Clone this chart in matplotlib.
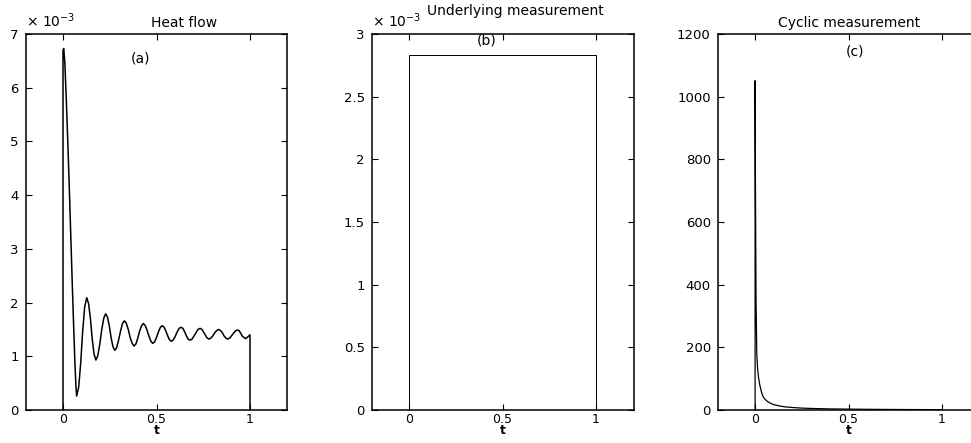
import matplotlib
matplotlib.use("Agg")
import matplotlib.pyplot as plt

plt.rcParams['font.family'] = ['DejaVu Sans']

# ---------------- data ----------------
# (a) Heat flow (units of 1e-3)
heat_t = [0.000, 0.000, 0.004, 0.010, 0.018, 0.026, 0.034, 0.042, 0.050, 0.058, 0.064, 0.069,
          0.073, 0.084, 0.095, 0.105, 0.116, 0.127, 0.137, 0.147, 0.156, 0.166,
          0.176, 0.186, 0.197, 0.207, 0.218, 0.228, 0.238, 0.248, 0.257, 0.267,
          0.277, 0.287, 0.297, 0.308, 0.318, 0.328, 0.338, 0.349, 0.359, 0.370,
          0.380, 0.390, 0.400, 0.410, 0.420, 0.430, 0.440, 0.450, 0.460, 0.470,
          0.480, 0.490, 0.500, 0.511, 0.521, 0.531, 0.541, 0.550, 0.560, 0.569,
          0.579, 0.589, 0.600, 0.610, 0.621, 0.631, 0.641, 0.650, 0.660, 0.669,
          0.679, 0.690, 0.701, 0.711, 0.722, 0.733, 0.743, 0.752, 0.762, 0.771,
          0.781, 0.791, 0.801, 0.812, 0.822, 0.832, 0.842, 0.852, 0.861, 0.871,
          0.881, 0.891, 0.901, 0.912, 0.922, 0.932, 0.941, 0.950, 0.958, 0.967,
          0.976, 0.988, 1.000, 1.000]
heat_q = [0.00, 6.70, 6.73, 6.45, 5.75, 4.95, 4.10, 3.20, 2.30, 1.45, 0.85, 0.45,
          0.26, 0.43, 0.89, 1.46, 1.92, 2.09, 1.98, 1.69, 1.33, 1.04,
          0.93, 1.01, 1.23, 1.49, 1.71, 1.79, 1.73, 1.56, 1.35, 1.18,
          1.11, 1.16, 1.30, 1.47, 1.61, 1.66, 1.62, 1.50, 1.35, 1.24,
          1.19, 1.23, 1.34, 1.47, 1.57, 1.61, 1.57, 1.48, 1.37, 1.28,
          1.24, 1.27, 1.35, 1.46, 1.54, 1.57, 1.54, 1.47, 1.38, 1.31,
          1.28, 1.30, 1.37, 1.45, 1.52, 1.54, 1.52, 1.46, 1.38, 1.32,
          1.30, 1.32, 1.38, 1.44, 1.50, 1.52, 1.50, 1.45, 1.39, 1.34,
          1.32, 1.34, 1.38, 1.44, 1.48, 1.50, 1.48, 1.44, 1.38, 1.34,
          1.32, 1.34, 1.38, 1.43, 1.47, 1.49, 1.48, 1.43, 1.38, 1.35,
          1.33, 1.36, 1.40, 0.00]

# (b) Underlying measurement (units of 1e-3)
under_t = [0.0, 0.0, 1.0, 1.0]
under_q = [0.0, 2.83, 2.83, 0.0]

# (c) Cyclic measurement
cyc_t = [0.000, 0.000, 0.002, 0.005, 0.009, 0.013, 0.018, 0.025, 0.035, 0.045, 0.060,
         0.080, 0.100, 0.130, 0.160, 0.200, 0.250, 0.300, 0.400, 0.500, 0.600,
         0.700, 0.800, 0.900, 1.000, 1.000]
cyc_q = [0, 1051, 700, 350, 180, 135, 105, 80, 55, 40, 30,
         22, 17, 13, 10, 8, 6, 5, 3.5, 2.8, 2.2,
         1.8, 1.5, 1.3, 1.1, 0]

x_ticks = [0, 0.5, 1]
x_labels = ["0", "0.5", "1"]
a_yticks = [0, 1, 2, 3, 4, 5, 6, 7]
a_ylabels = ["0", "1", "2", "3", "4", "5", "6", "7"]
b_yticks = [0, 0.5, 1, 1.5, 2, 2.5, 3]
b_ylabels = ["0", "0.5", "1", "1.5", "2", "2.5", "3"]
c_yticks = [0, 200, 400, 600, 800, 1000, 1200]
c_ylabels = ["0", "200", "400", "600", "800", "1000", "1200"]

titles = ["Heat flow", "Underlying measurement", "Cyclic measurement"]
tags = ["(a)", "(b)", "(c)"]

# ---------------- figure ----------------
W, H = 971, 443
fig = plt.figure(figsize=(W / 100, H / 100), dpi=100)

def fx(px):
    return px / W

def fy(py):
    return 1 - py / H

bottom = fy(410)
height = fy(34) - bottom
axw = (287.4 - 25.6) / W
axes = [fig.add_axes([fx(25.6), bottom, axw, height]),
        fig.add_axes([fx(371.7), bottom, axw, height]),
        fig.add_axes([fx(717.7), bottom, axw, height])]

FS = 10
TFS = 9

def style(ax, yt, yl, ylim):
    ax.set_xlim(-0.2, 1.2)
    ax.set_ylim(*ylim)
    ax.set_xticks(x_ticks)
    ax.set_xticklabels(x_labels)
    ax.set_yticks(yt)
    ax.set_yticklabels(yl)
    ax.tick_params(direction='in', top=True, right=True, length=4, width=0.8,
                   labelsize=TFS + 0.5, pad=5, colors='black')
    ax.tick_params(axis='x', pad=2, labelsize=TFS)
    for s in ax.spines.values():
        s.set_linewidth(1.1)
    ax.set_xlabel("t", fontsize=TFS, fontweight='bold', va='top')
    ax.xaxis.set_label_coords(0.5, -(424 - 410) / (410 - 34))

ax = axes[0]
ax.plot(heat_t, heat_q, color='black', lw=1.1)
style(ax, a_yticks, a_ylabels, (0, 7))
ax.text(0.417, 6.54, tags[0], ha='center', va='center', fontsize=FS)

ax = axes[1]
ax.plot(under_t, under_q, color='black', lw=0.7)
style(ax, b_yticks, b_ylabels, (0, 3))
ax.text(0.414, 2.95, tags[1], ha='center', va='center', fontsize=FS)

ax = axes[2]
ax.plot(cyc_t, cyc_q, color='black', lw=0.9)
style(ax, c_yticks, c_ylabels, (0, 1200))
ax.text(0.536, 1144, tags[2], ha='center', va='center', fontsize=FS)

# multipliers
fig.text(fx(26), fy(30), r"× 10$^{-3}$", ha='left', va='bottom', fontsize=FS)
fig.text(fx(372), fy(30), r"× 10$^{-3}$", ha='left', va='bottom', fontsize=FS)

# titles
fig.text(fx(184), fy(23), titles[0], ha='center', va='center', fontsize=FS)
fig.text(fx(515), fy(11), titles[1], ha='center', va='center', fontsize=FS)
fig.text(fx(849), fy(23), titles[2], ha='center', va='center', fontsize=FS)

fig.savefig("out.png", dpi=100)
